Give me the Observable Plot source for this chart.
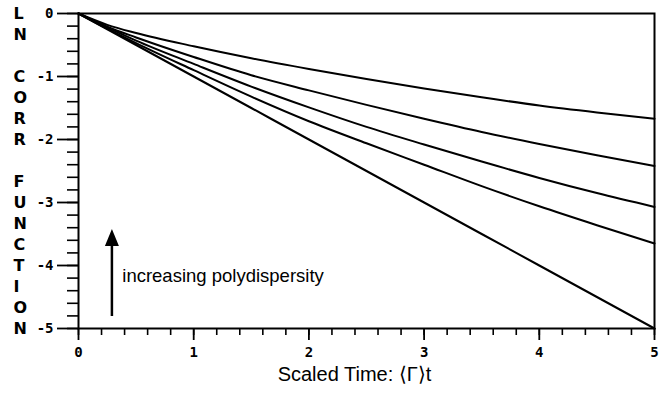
<!DOCTYPE html>
<html>
<head>
<meta charset="utf-8">
<script src="https://cdn.jsdelivr.net/npm/d3@7"></script>
<script src="https://cdn.jsdelivr.net/npm/@observablehq/plot@0.6"></script>
<style>
  html, body { margin: 0; padding: 0; background: #fff; }
  #chart svg { display: block; }
</style>
</head>
<body>
<div id="chart"></div>
<script>
// ---- data ----
const times = [0, 0.25, 0.5, 1, 1.5, 2, 2.5, 3, 3.5, 4, 4.5, 5];
const seriesA = [0, -0.18, -0.31, -0.52, -0.71, -0.88, -1.04, -1.19, -1.33, -1.46, -1.57, -1.67]; // most polydisperse
const seriesB = [0, -0.21, -0.38, -0.69, -0.98, -1.22, -1.45, -1.67, -1.88, -2.07, -2.25, -2.42];
const seriesC = [0, -0.22, -0.43, -0.80, -1.16, -1.49, -1.80, -2.08, -2.35, -2.61, -2.85, -3.07];
const seriesD = [0, -0.24, -0.47, -0.90, -1.32, -1.71, -2.06, -2.40, -2.74, -3.06, -3.36, -3.65];
const seriesE = [0, -0.25, -0.5, -1, -1.5, -2, -2.5, -3, -3.5, -4, -4.5, -5];          // monodisperse
const seriesList = [seriesA, seriesB, seriesC, seriesD, seriesE];

const xTicks = [0, 1, 2, 3, 4, 5];
const yTicks = [0, -1, -2, -3, -4, -5];
const xMinor = d3.range(0, 5.001, 0.2);
const yMinor = d3.range(0, -5.001, -0.2);

const xLabel = "Scaled Time: \u27E8\u0393\u27E9t";
const yLabelLines = ["L", "N", "", "C", "O", "R", "R", "", "F", "U", "N", "C", "T", "I", "O", "N"];
const annotation = "increasing polydispersity";
const arrowX = 0.29, arrowBase = -4.81, arrowHead = -3.69;

// ---- build table ----
const rows = [];
seriesList.forEach((s, k) => s.forEach((v, i) => rows.push({series: k, t: times[i], v})));
const yLetters = yLabelLines.map((c, i) => ({c, y: -i * 5 / (yLabelLines.length - 1)}));

const triangleUp = {
  draw(ctx) {
    ctx.moveTo(0, -17);
    ctx.lineTo(7, 0);
    ctx.lineTo(-7, 0);
    ctx.closePath();
  }
};

const fmt = d => d < 0 ? "-" + (-d) : String(d);
const tickFont = "'DejaVu Sans Mono', monospace";

const chart = Plot.plot({
  width: 659,
  height: 395,
  marginLeft: 78,
  marginRight: 5,
  marginTop: 13,
  marginBottom: 67,
  x: {domain: [0, 5]},
  y: {domain: [-5, 0]},
  style: {background: "#fff", color: "#000", fontFamily: "'Liberation Sans', Arial, sans-serif"},
  marks: [
    Plot.axisX({ticks: xMinor, tickSize: 7, text: null, label: null, strokeWidth: 1.6}),
    Plot.axisX({ticks: xTicks, tickSize: 12, tickPadding: 7, tickFormat: fmt, label: null, strokeWidth: 1.8,
      fontSize: 14, fontWeight: "bold", fontFamily: tickFont}),
    Plot.axisY({ticks: yMinor, tickSize: 11, text: null, label: null, strokeWidth: 1.6}),
    Plot.axisY({ticks: yTicks, tickSize: 21, tickPadding: 4, tickFormat: fmt, label: null, strokeWidth: 1.8,
      fontSize: 14, fontWeight: "bold", fontFamily: tickFont}),
    Plot.frame({strokeWidth: 2}),
    Plot.line(rows, {x: "t", y: "v", z: "series", stroke: "#000", strokeWidth: 2, curve: "monotone-x"}),
    Plot.ruleX([arrowX], {y1: arrowBase, y2: arrowHead, stroke: "#000", strokeWidth: 2.5}),
    Plot.dot([{x: arrowX, y: arrowHead}], {x: "x", y: "y", symbol: triangleUp, r: 8, fill: "#000", stroke: null}),
    Plot.text([annotation], {x: arrowX + 0.09, y: -4.17, textAnchor: "start", fontSize: 18.5}),
    Plot.text(yLetters, {text: "c", y: "y", frameAnchor: "left", dx: -65, fontSize: 16, fontWeight: "bold",
      fontFamily: "'DejaVu Sans', sans-serif"}),
    Plot.text([xLabel], {frameAnchor: "bottom", dx: -12, dy: 52, fontSize: 20, letterSpacing: "0.5px"})
  ]
});
document.getElementById("chart").append(chart);
</script>
</body>
</html>
